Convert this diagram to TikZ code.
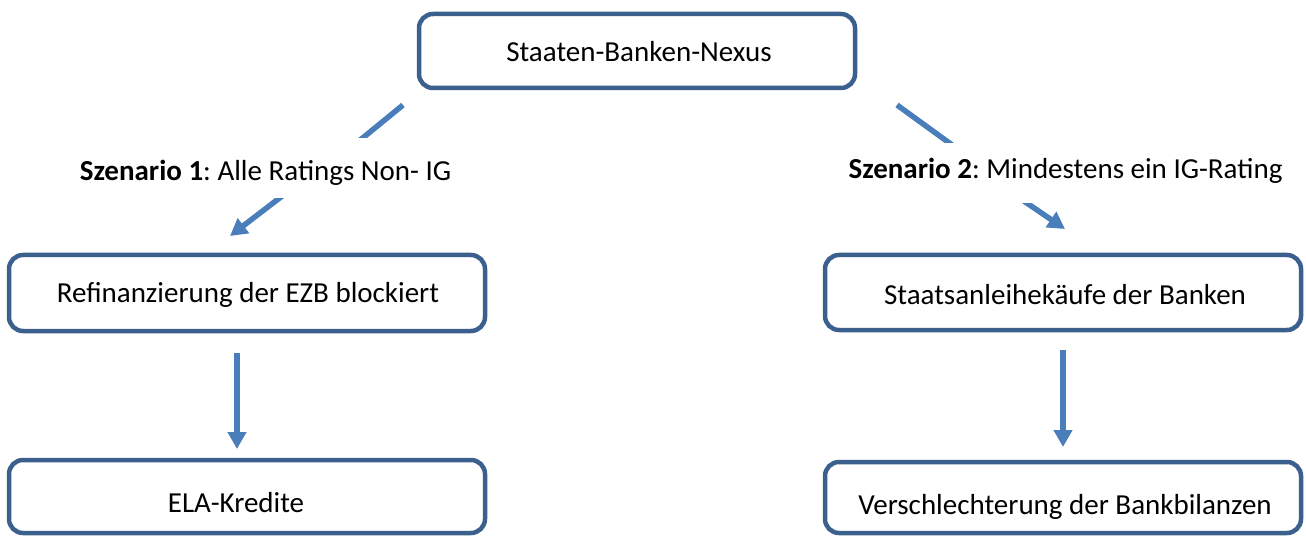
\documentclass[tikz,border=0pt]{standalone}
\usepackage{fontspec}
\setmainfont{Carlito}
\usetikzlibrary{arrows.meta}
\definecolor{boxblue}{RGB}{60,96,142}
\definecolor{arrowblue}{RGB}{74,126,187}
\frenchspacing
\begin{document}
\begin{tikzpicture}[x=1pt,y=-1pt,
  box/.style={draw=boxblue,line width=4.5pt,rounded corners=14pt,inner sep=0pt,fill=white},
  txt/.style={anchor=base,inner sep=0pt,font=\fontsize{29}{34}\selectfont},
  conn/.style={draw=arrowblue,line width=5.5pt},
  arr/.style={conn,-{Triangle[width=18pt,length=17pt]}},
  lbl/.style={anchor=base,inner sep=0pt,fill=white,font=\fontsize{29}{34}\selectfont}]
\useasboundingbox (0,0) rectangle (1306,537);
% boxes
\node[box,minimum width=436pt,minimum height=74pt] (top) at (637,51) {};
\node[box,minimum width=476pt,minimum height=76pt] (lm) at (247,293) {};
\node[box,minimum width=476pt,minimum height=73pt] (lb) at (247,496.5) {};
\node[box,minimum width=476pt,minimum height=75pt] (rm) at (1063,292.5) {};
\node[box,minimum width=476pt,minimum height=71pt] (rb) at (1063,497.5) {};
% box texts
\node[txt] (ttop) at (639,62) {Staaten-Banken-Nexus};
\node[txt] (tlm) at (248,302) {Refinanzierung der EZB blockiert};
\node[txt] (tlb) at (236,512) {ELA-Kredite};
\node[txt] (trm) at (1065,305) {Staatsanleihekäufe der Banken};
\node[txt] (trb) at (1065,514) {Verschlechterung der Bankbilanzen};
% connector end points
\coordinate (l1a) at (403,105);
\coordinate (l1b) at (348,150);
\coordinate (l2a) at (290,190);
\coordinate (l2b) at (230,236);
\coordinate (r1a) at (897,105);
\coordinate (r1b) at (959,150);
\coordinate (r2a) at (1015,195);
\coordinate (r2b) at (1065,229);
\coordinate (va1) at (237,353);
\coordinate (va2) at (237,449);
\coordinate (vb1) at (1063,350);
\coordinate (vb2) at (1063,447);
% connectors
\draw[conn] (l1a) -- (l1b);
\draw[arr] (l2a) -- (l2b);
\draw[conn] (r1a) -- (r1b);
\draw[arr] (r2a) -- (r2b);
\draw[arr] (va1) -- (va2);
\draw[arr] (vb1) -- (vb2);
% scenario labels (white background hides the line ends)
\node[lbl,text height=43pt,text depth=17pt] (s1) at (265.5,181) {\textbf{Szenario 1}: Alle Ratings Non- IG};
\node[lbl,text height=36pt,text depth=24pt] (s2) at (1065.5,179) {\textbf{Szenario 2}: Mindestens ein IG-Rating};
\end{tikzpicture}
\end{document}
